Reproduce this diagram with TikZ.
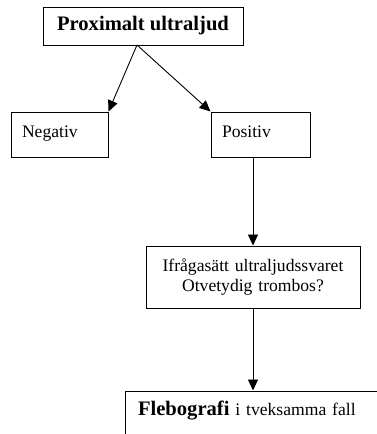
\documentclass[tikz,border=0pt]{standalone}
\usepackage{fontspec}
\setmainfont{Liberation Serif}
\usepackage{tikz}
\usetikzlibrary{arrows.meta}
\tikzset{
  titlebox/.style={
    draw,
    line width=1pt,
    align=center,
    inner sep=0pt,
    minimum width=200pt,
    minimum height=38pt,
    font=\fontsize{20.6}{24}\selectfont\bfseries
  },
  resultbox/.style={
    draw,
    line width=1pt,
    align=left,
    inner xsep=11pt,
    inner ysep=5pt,
    text width=75pt,
    text height=20pt,
    text depth=15pt,
    font=\fontsize{17.6}{20}\selectfont
  },
  questionbox/.style={
    draw,
    line width=1pt,
    align=center,
    inner xsep=12pt,
    text width=190pt,
    minimum height=62pt,
    font=\fontsize{17.6}{20}\selectfont
  },
  finalbox/.style={
    draw,
    line width=1pt,
    align=left,
    inner xsep=13pt,
    inner ysep=5pt,
    text width=234pt,
    text height=19pt,
    text depth=31pt,
    font=\fontsize{17.6}{20}\selectfont
  },
  every edge/.style={draw, -{Triangle[length=11pt,width=10pt]}, line width=0.9pt}
}

\begin{document}
\begin{tikzpicture}[x=1pt,y=-1pt]
  \clip (0,0) rectangle (377,434);

  \node[titlebox] (ultra) at (143,26) {Proximalt ultraljud};
  \coordinate (split) at (137,45);

  \node[resultbox] (neg) at (59.5,134.5) {Negativ};
  \node[resultbox, text width=77pt] (pos) at (260.5,134.5) {Positiv};

  \node[questionbox] (doubt) at (253,277) {Ifrågasätt ultraljudssvaret\\Otvetydig trombos?};
  \node[finalbox] (fleb) at (255,421)
    {{\fontsize{20.6}{24}\selectfont\bfseries Flebografi} i tveksamma fall};

  \path (split) edge (neg.north east)
        (split) edge (pos.north west)
        (pos.south -| doubt.north) edge (doubt.north)
        (doubt.south) edge (fleb.north -| doubt.south);
\end{tikzpicture}
\end{document}
